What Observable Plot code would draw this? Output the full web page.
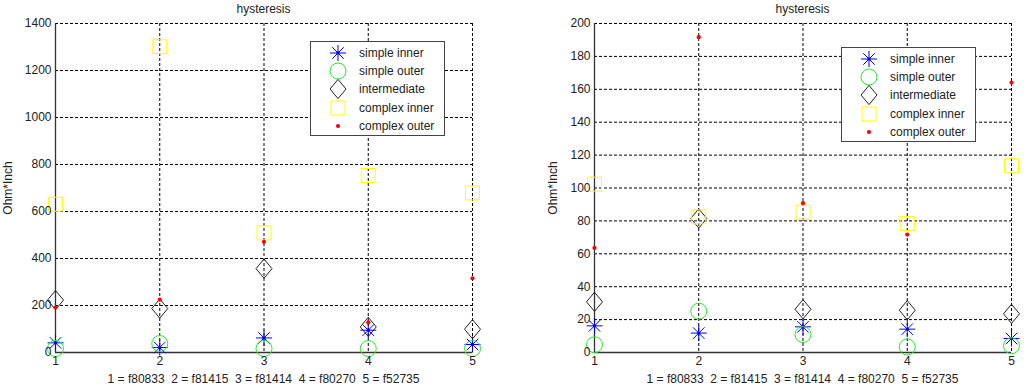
<!DOCTYPE html>
<html><head><meta charset="utf-8">
<script src="https://cdn.jsdelivr.net/npm/d3@7"></script>
<script src="https://cdn.jsdelivr.net/npm/@observablehq/plot@0.6"></script>
<style>
body{margin:0;background:#fff;font-family:"Liberation Sans",Arial,sans-serif;}
#wrap{position:relative;width:1024px;height:392px;overflow:hidden;}
.panel{position:absolute;top:0;width:512px;height:392px;}
.panel svg{position:absolute;left:0;top:0;}
.title,.caption{position:absolute;font-size:12px;color:#222;white-space:pre;transform:translateX(-50%);line-height:14px;}
.legend{position:absolute;border:1px solid #444;background:#fff;font-size:12px;color:#222;box-sizing:border-box;}
.legend .row{position:absolute;left:0;height:18px;line-height:18px;white-space:nowrap;}
.legend svg{position:absolute;top:0;}
</style>
</head><body>
<div id="wrap"></div>
<script>
const samples = [1, 2, 3, 4, 5];
const sampleNames = ["f80833", "f81415", "f81414", "f80270", "f52735"];
const seriesNames = ["simple inner", "simple outer", "intermediate", "complex inner", "complex outer"];
const titleText = "hysteresis";
const yLabelText = "Ohm*Inch";

// left panel values
const leftSimpleInner  = [41, 21, 62, 95, 34];
const leftSimpleOuter  = [17, 38, 17, 17, 17];
const leftIntermediate = [223, 187, 357, 109, 99];
const leftComplexInner = [631, 1301, 509, 753, 679];
const leftComplexOuter = [191, 225, 471, 128, 316];
const leftTicks = [0, 200, 400, 600, 800, 1000, 1200, 1400];

// right panel values
const rightSimpleInner  = [16.2, 11.8, 15.6, 14.2, 8.5];
const rightSimpleOuter  = [4.7, 25.1, 10.9, 3.4, 4.1];
const rightIntermediate = [30.8, 81.5, 26.3, 25.7, 23.5];
const rightComplexInner = [102.3, 82.5, 85.3, 78.4, 113.5];
const rightComplexOuter = [63.6, 191.7, 90.8, 71.7, 164.1];
const rightTicks = [0, 20, 40, 60, 80, 100, 120, 140, 160, 180, 200];

// custom marker shapes
const asterisk = {draw(ctx, size) {
  const r = Math.sqrt(size / Math.PI), d = r * 0.72;
  ctx.moveTo(-r, 0); ctx.lineTo(r, 0);
  ctx.moveTo(0, -r); ctx.lineTo(0, r);
  ctx.moveTo(-d, -d); ctx.lineTo(d, d);
  ctx.moveTo(-d, d); ctx.lineTo(d, -d);
  ctx.moveTo(1.2, 0); ctx.arc(0, 0, 1.2, 0, 2 * Math.PI);
}};
const diamond = {draw(ctx, size) {
  const r = Math.sqrt(size / Math.PI), h = r * 1.2;
  ctx.moveTo(0, -h); ctx.lineTo(r, 0); ctx.lineTo(0, h); ctx.lineTo(-r, 0); ctx.closePath();
}};
const square = {draw(ctx, size) {
  const r = Math.sqrt(size / Math.PI);
  ctx.rect(-r, -r, 2 * r, 2 * r);
}};
const roundDot = {draw(ctx, size) {
  const r = Math.sqrt(size / Math.PI);
  ctx.moveTo(r, 0); ctx.arc(0, 0, r, 0, 2 * Math.PI);
}};
const styles = [
  {symbol: asterisk, r: 8, stroke: "#0000ff", fill: "none"},
  {symbol: roundDot, r: 8, stroke: "#22ee22", fill: "none"},
  {symbol: diamond, r: 8, stroke: "#222", fill: "none"},
  {symbol: square, r: 7, stroke: "#ffff00", fill: "none"},
  {symbol: roundDot, r: 2.1, stroke: "none", fill: "#ff0000"}
];

function makePanel(left, values, ticks, m, legendPos) {
  const panel = document.createElement("div");
  panel.className = "panel";
  panel.style.left = left + "px";
  document.getElementById("wrap").appendChild(panel);
  const data = seriesNames.flatMap((name, si) => samples.map((s, i) => ({series: name, si, x: s, y: values[si][i]})));
  const yMax = ticks[ticks.length - 1];
  const chart = Plot.plot({
    width: 512, height: 392,
    marginLeft: m.left, marginRight: m.right, marginTop: 23, marginBottom: 40,
    style: {fontFamily: "Liberation Sans, Arial, sans-serif", fontSize: "12px", color: "#222", background: "none"},
    x: {domain: [1, 5]},
    y: {domain: [0, yMax]},
    marks: [
      Plot.gridX(samples, {stroke: "#000", strokeOpacity: 1, strokeDasharray: "3,2"}),
      Plot.gridY(ticks, {stroke: "#000", strokeOpacity: 1, strokeDasharray: "3,2"}),
      Plot.ruleX([1], {stroke: "#333", strokeWidth: 1.3}),
      Plot.ruleY([0], {stroke: "#333", strokeWidth: 1.3}),
      ...styles.map((st, si) => Plot.dot(data.filter(d => d.si === si), {
        x: "x", y: "y", symbol: st.symbol, r: st.r, stroke: st.stroke, fill: st.fill, strokeWidth: 1
      })),
      Plot.axisX(samples, {tickSize: 0, tickPadding: 4, tickFormat: d => String(d), label: null}),
      Plot.axisY(ticks, {tickSize: 0, tickPadding: 4, tickFormat: d => String(d), label: yLabelText, labelAnchor: "center", labelArrow: "none", labelOffset: m.labelOffset})
    ]
  });
  panel.appendChild(chart);
  const cx = (m.left + 512 - m.right) / 2;
  const t = document.createElement("div");
  t.className = "title"; t.textContent = titleText;
  t.style.left = cx + "px"; t.style.top = "2px";
  panel.appendChild(t);
  const c = document.createElement("div");
  c.className = "caption";
  c.textContent = samples.map((s, i) => `${s} = ${sampleNames[i]}`).join("  ");
  c.style.left = cx + "px"; c.style.top = "372px";
  panel.appendChild(c);
  // legend
  const lg = document.createElement("div");
  lg.className = "legend";
  lg.style.left = legendPos.x + "px"; lg.style.top = legendPos.y + "px";
  lg.style.width = "135px"; lg.style.height = "95px";
  seriesNames.forEach((name, si) => {
    const row = document.createElement("div");
    row.className = "row";
    row.style.top = (2 + si * 18.2) + "px";
    const st = styles[si];
    const p = d3.path();
    st.symbol.draw(p, Math.PI * st.r * st.r);
    const svg = d3.create("svg").attr("width", 24).attr("height", 24)
      .style("left", "15px").style("top", "-3px").style("overflow", "visible");
    svg.append("path").attr("transform", "translate(12,12)").attr("d", p.toString())
      .attr("stroke", st.stroke).attr("fill", st.fill);
    row.appendChild(svg.node());
    const sp = document.createElement("span");
    sp.textContent = name;
    sp.style.position = "absolute"; sp.style.left = "48px";
    row.appendChild(sp);
    lg.appendChild(row);
  });
  panel.appendChild(lg);
}

makePanel(0, [leftSimpleInner, leftSimpleOuter, leftIntermediate, leftComplexInner, leftComplexOuter], leftTicks,
  {left: 55, right: 40, labelOffset: 52}, {x: 310, y: 41});
makePanel(512, [rightSimpleInner, rightSimpleOuter, rightIntermediate, rightComplexInner, rightComplexOuter], rightTicks,
  {left: 82, right: 13, labelOffset: 46}, {x: 329, y: 47});
</script>
</body></html>
